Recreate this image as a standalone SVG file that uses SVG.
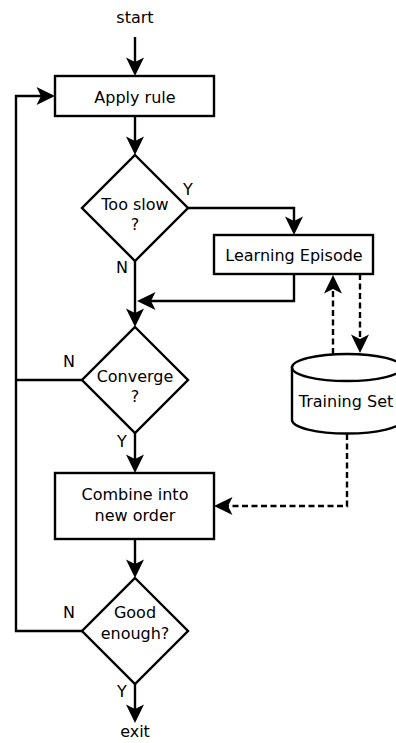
<svg xmlns="http://www.w3.org/2000/svg" width="396" height="743" viewBox="0 0 396 743">
<style>
text{font-family:"DejaVu Sans","Liberation Sans",sans-serif;font-size:16px;fill:#000;text-anchor:middle}
.box{fill:#fff;stroke:#000;stroke-width:2.4}
.ln{fill:none;stroke:#000;stroke-width:2.4;stroke-linejoin:miter}
.arr{marker-end:url(#ah)}
.dash{stroke-dasharray:6,3.5}
</style>
<defs>
<marker id="ah" markerUnits="userSpaceOnUse" markerWidth="20" markerHeight="20" viewBox="0 0 20 20" refX="15" refY="10" orient="auto">
<path d="M19,10 L0.5,1 L5,10 L0.5,19 Z" fill="#000" stroke="none"/>
</marker>
</defs>
<rect width="396" height="743" fill="#fff"/>
<g id="connectors">
<path class="ln arr" d="M135,37 L135,72"/>
<path class="ln arr" d="M135,116 L135,151"/>
<path class="ln arr" d="M188,208 L294,208 L294,231"/>
<path class="ln arr" d="M135,261 L135,323"/>
<path class="ln arr" d="M294,274 L294,301 L141,301"/>
<path class="ln arr" d="M135,433 L135,469"/>
<path class="ln" d="M82,380 L16,380"/>
<path class="ln arr" d="M135,539 L135,574"/>
<path class="ln arr" d="M135,684 L135,719"/>
<path class="ln arr" d="M82,631 L16,631 L16,96 L51,96"/>
<path class="ln dash arr" d="M360,274 L360,349"/>
<path class="ln dash arr" d="M333,354 L333,279"/>
<path class="ln dash arr" d="M347,434 L347,506 L218,506"/>
</g>
<g id="start"><text x="135" y="23">start</text></g>
<g id="apply-rule">
<rect class="box" x="55" y="76" width="159" height="40"/>
<text x="135" y="103">Apply rule</text>
</g>
<g id="too-slow">
<polygon class="box" points="135,155 188,208 135,261 82,208"/>
<text x="135" y="210">Too slow</text>
<text x="135" y="230">?</text>
</g>
<g id="learning-episode">
<rect class="box" x="214" y="235" width="159" height="39"/>
<text x="294" y="261">Learning Episode</text>
</g>
<g id="converge">
<polygon class="box" points="135,327 188,380 135,433 82,380"/>
<text x="135" y="382">Converge</text>
<text x="135" y="402">?</text>
</g>
<g id="training-set">
<path class="box" d="M292,367.5 L292,420 A55,13.5 0 0 0 402,420 L402,367.5 Z"/>
<ellipse class="box" cx="347" cy="367.5" rx="55" ry="13.5"/>
<text x="346" y="407">Training Set</text>
</g>
<g id="combine">
<rect class="box" x="55" y="473" width="159" height="66"/>
<text x="135" y="500">Combine into</text>
<text x="135" y="521">new order</text>
</g>
<g id="good-enough">
<polygon class="box" points="135,578 188,631 135,684 82,631"/>
<text x="135" y="618">Good</text>
<text x="135" y="639">enough?</text>
</g>
<g id="exit"><text x="135" y="737">exit</text></g>
<g id="labels">
<text x="188" y="195">Y</text>
<text x="122" y="273">N</text>
<text x="69" y="367">N</text>
<text x="122" y="447">Y</text>
<text x="69" y="618">N</text>
<text x="122" y="697">Y</text>
</g>
</svg>
